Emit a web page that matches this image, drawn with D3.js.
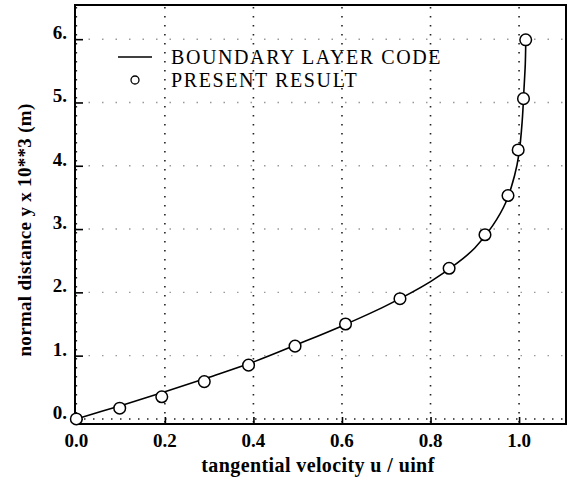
<!DOCTYPE html>
<html>
<head>
<meta charset="utf-8">
<script src="https://cdn.jsdelivr.net/npm/d3@7"></script>
<style>
  html, body { margin: 0; padding: 0; background: #fff; }
  svg { display: block; }
</style>
</head>
<body>
<svg id="chart" width="571" height="483"></svg>
<script>
// Velocity profile u/uinf versus wall distance
const codeU = [0, 0.1, 0.2, 0.3, 0.4, 0.5, 0.6, 0.7, 0.8, 0.86, 0.9, 0.94, 0.97, 0.99, 1.0, 1.007, 1.011, 1.014, 1.015];
const codeY = [0, 0.21, 0.43, 0.66, 0.90, 1.18, 1.47, 1.79, 2.17, 2.46, 2.70, 3.05, 3.42, 3.85, 4.2, 4.7, 5.2, 5.6, 5.9];

const presentU = [0.0, 0.098, 0.193, 0.289, 0.389, 0.494, 0.608, 0.731, 0.842, 0.923, 0.975, 0.998, 1.010, 1.015];
const presentY = [0.0, 0.17, 0.35, 0.59, 0.85, 1.15, 1.50, 1.90, 2.38, 2.91, 3.53, 4.25, 5.06, 5.99];

const xTicks = [0, 0.2, 0.4, 0.6, 0.8, 1.0];
const xTickLabels = ["0.0", "0.2", "0.4", "0.6", "0.8", "1.0"];
const yTicks = [0, 1, 2, 3, 4, 5, 6];
const yTickLabels = ["0.", "1.", "2.", "3.", "4.", "5.", "6."];

const legendLabels = ["BOUNDARY LAYER CODE", "PRESENT RESULT"];
const xTitle = "tangential velocity u / uinf";
const yTitle = "normal distance  y x 10**3 (m)";

const svg = d3.select("#chart");
const box = { left: 75, right: 566, top: 5, bottom: 424 };

const x = d3.scaleLinear().domain([-0.003, 1.106]).range([box.left, box.right]);
const y = d3.scaleLinear().domain([-0.08, 6.54]).range([box.bottom, box.top]);

const serif = "'Liberation Serif', 'Times New Roman', serif";

// dotted grid
const grid = svg.append("g");
grid.selectAll("line.vg").data(xTicks).join("line")
  .attr("x1", d => x(d)).attr("x2", d => x(d))
  .attr("y1", box.top + 2).attr("y2", box.bottom)
  .attr("stroke", "#222").attr("stroke-width", 1.6)
  .attr("stroke-dasharray", "1.5,7.5");
grid.selectAll("line.hg").data(yTicks).join("line")
  .attr("x1", box.left).attr("x2", box.right)
  .attr("y1", d => y(d)).attr("y2", d => y(d))
  .attr("stroke", d => d === 0 ? "#222" : "#999")
  .attr("stroke-width", 1.4)
  .attr("stroke-dasharray", d => d === 0 ? "1.5,7.5" : "1.5,12");

// axes with inward ticks
const xAxis = d3.axisTop(x).tickValues(xTicks).tickSize(7).tickFormat("");
svg.append("g").attr("transform", `translate(0,${box.bottom})`).call(xAxis)
  .call(g => g.select(".domain").remove())
  .call(g => g.selectAll("line").attr("stroke", "#000").attr("stroke-width", 1.6));
const yAxis = d3.axisRight(y).tickValues(yTicks).tickSize(8).tickFormat("");
svg.append("g").attr("transform", `translate(${box.left},0)`).call(yAxis)
  .call(g => g.select(".domain").remove())
  .call(g => g.selectAll("line").attr("stroke", "#000").attr("stroke-width", 1.6));

// frame
svg.append("rect")
  .attr("x", box.left).attr("y", box.top)
  .attr("width", box.right - box.left).attr("height", box.bottom - box.top)
  .attr("fill", "none").attr("stroke", "#000").attr("stroke-width", 2);

// tick labels
svg.append("g").selectAll("text").data(xTicks).join("text")
  .attr("x", d => x(d)).attr("y", 447)
  .attr("text-anchor", "middle")
  .attr("font-family", serif).attr("font-weight", "bold").attr("font-size", 19)
  .text((d, i) => xTickLabels[i]);
svg.append("g").selectAll("text").data(yTicks).join("text")
  .attr("x", 67).attr("y", d => y(d))
  .attr("text-anchor", "end")
  .attr("font-family", serif).attr("font-weight", "bold").attr("font-size", 19)
  .text((d, i) => yTickLabels[i]);

// axis titles
svg.append("text")
  .attr("x", 318).attr("y", 472)
  .attr("text-anchor", "middle")
  .attr("font-family", serif).attr("font-weight", "bold").attr("font-size", 20)
  .attr("letter-spacing", 0.4)
  .text(xTitle);
svg.append("text")
  .attr("transform", "translate(31,230) rotate(-90)")
  .attr("text-anchor", "middle")
  .attr("font-family", serif).attr("font-weight", "bold").attr("font-size", 19)
  .attr("letter-spacing", 0.3)
  .text(yTitle);

// boundary layer code curve
const codePts = codeU.map((u, i) => [u, codeY[i]]);
svg.append("path")
  .datum(codePts)
  .attr("fill", "none").attr("stroke", "#000").attr("stroke-width", 1.6)
  .attr("d", d3.line().x(d => x(d[0])).y(d => y(d[1])).curve(d3.curveCatmullRom.alpha(0.5)));

// present result markers
const presentPts = presentU.map((u, i) => [u, presentY[i]]);
svg.append("g").selectAll("circle").data(presentPts).join("circle")
  .attr("cx", d => x(d[0])).attr("cy", d => y(d[1])).attr("r", 5.8)
  .attr("fill", "#fff").attr("stroke", "#000").attr("stroke-width", 1.5);

// legend
const lg = svg.append("g");
lg.append("line").attr("x1", 118).attr("x2", 152).attr("y1", 57).attr("y2", 57)
  .attr("stroke", "#000").attr("stroke-width", 1.4);
lg.append("circle").attr("cx", 135).attr("cy", 80).attr("r", 4)
  .attr("fill", "#fff").attr("stroke", "#000").attr("stroke-width", 1.3);
lg.selectAll("text").data(legendLabels).join("text")
  .attr("x", 171).attr("y", (d, i) => 64 + i * 23)
  .attr("font-family", serif).attr("font-size", 20)
  .attr("letter-spacing", 1.6)
  .text(d => d);
</script>
</body>
</html>
